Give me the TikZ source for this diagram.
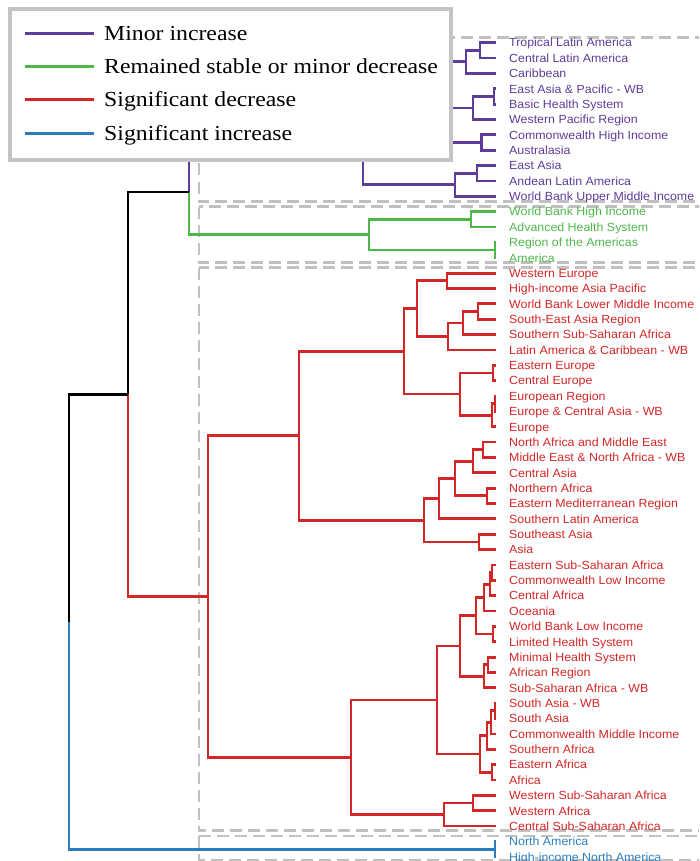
\documentclass[tikz,border=0pt]{standalone}
\usepackage{fontspec}
\usetikzlibrary{calc}
\newfontfamily\leaffont[FakeStretch=1.05]{Liberation Sans}
\newfontfamily\legfont[FakeStretch=1.11]{Liberation Serif}
\definecolor{cpurp}{RGB}{94,60,153}
\definecolor{cgrn}{RGB}{77,184,72}
\definecolor{cred}{RGB}{212,38,38}
\definecolor{cblu}{RGB}{43,125,190}
\definecolor{cbox}{RGB}{192,192,192}
\definecolor{clegbox}{RGB}{196,196,196}
\newcommand\dgnode[4]{\coordinate (#1m) at ($(#3)!0.5!(#4)$); \coordinate (#1) at (#2,0 |- #1m);}
\newcommand\dglink[5]{\draw[tree,#4] (#1) |- (#2); \draw[tree,#5] (#1) |- (#3);}
\tikzset{
  tree/.style={line width=2.8pt, line join=miter},
  dbox/.style={draw=cbox, line width=2.6pt, dash pattern=on 12pt off 6pt},
  leaflab/.style={anchor=base west, inner sep=0pt, font=\leaffont\fontsize{11.8}{12}\selectfont},
  leglab/.style={anchor=base west, inner sep=0pt, font=\legfont\fontsize{21.4}{24}\selectfont},
  legline/.style={line width=3.2pt},
}
\begin{document}
\begin{tikzpicture}[x=1pt,y=-1pt]
\useasboundingbox (0,0) rectangle (699,861);
\clip (0,0) rectangle (699,861);
% dashed cluster boxes
\draw[dbox] (199,37.5) rectangle (712,201.7);
\draw[dbox] (199,206.7) rectangle (712,262.7);
\draw[dbox] (199,267.7) rectangle (712,830.7);
\draw[dbox] (199,836) rectangle (712,860);
% leaves
\foreach \lab [count=\i from 0] in {Tropical Latin America, Central Latin America, Caribbean, East Asia \& Pacific - WB, Basic Health System, Western Pacific Region, Commonwealth High Income, Australasia, East Asia, Andean Latin America, World Bank Upper Middle Income}
  {\coordinate (L\i) at (496,{42.7+15.36*\i});
   \node[leaflab, text=cpurp] (t\i) at (509,{42.7+15.36*\i+4.3}) {\lab};}
\foreach \lab [count=\i from 11] in {World Bank High Income, Advanced Health System, Region of the Americas, America}
  {\coordinate (L\i) at (496,{42.7+15.36*\i});
   \node[leaflab, text=cgrn] (t\i) at (509,{42.7+15.36*\i+4.3}) {\lab};}
\foreach \lab [count=\i from 15] in {Western Europe, High-income Asia Pacific, World Bank Lower Middle Income, South-East Asia Region, Southern Sub-Saharan Africa, Latin America \& Caribbean - WB, Eastern Europe, Central Europe, European Region, Europe \& Central Asia - WB, Europe, North Africa and Middle East, Middle East \& North Africa - WB, Central Asia, Northern Africa, Eastern Mediterranean Region, Southern Latin America, Southeast Asia, Asia, Eastern Sub-Saharan Africa, Commonwealth Low Income, Central Africa, Oceania, World Bank Low Income, Limited Health System, Minimal Health System, African Region, Sub-Saharan Africa - WB, South Asia - WB, South Asia, Commonwealth Middle Income, Southern Africa, Eastern Africa, Africa, Western Sub-Saharan Africa, Western Africa, Central Sub-Saharan Africa}
  {\coordinate (L\i) at (496,{42.7+15.36*\i});
   \node[leaflab, text=cred] (t\i) at (509,{42.7+15.36*\i+4.3}) {\lab};}
\foreach \lab [count=\i from 52] in {North America, High-income North America}
  {\coordinate (L\i) at (496,{42.7+15.36*\i});
   \node[leaflab, text=cblu] (t\i) at (509,{42.7+15.36*\i+4.3}) {\lab};}
% purple cluster
\dgnode{a1}{480}{L0}{L1}
\dgnode{a2}{466}{a1}{L2}
\dgnode{b1}{494}{L3}{L4}
\dgnode{b2}{473}{b1}{L5}
\dgnode{c1}{481.5}{L6}{L7}
\dgnode{d1}{477}{L8}{L9}
\dgnode{d2}{455}{d1}{L10}
\dgnode{p1}{430}{a2}{b2}
\dgnode{p2}{410}{p1}{c1}
\dgnode{p3}{363}{p2}{d2}
% green cluster
\dgnode{g1}{471}{L11}{L12}
\dgnode{g2}{495}{L13}{L14}
\dgnode{g3}{369}{g1}{g2}
\dgnode{top}{189}{p3}{g3}
% red cluster
\dgnode{r1}{447}{L15}{L16}
\dgnode{r2}{478}{L17}{L18}
\dgnode{r3}{463}{r2}{L19}
\dgnode{r4}{448}{r3}{L20}
\dgnode{r5}{417}{r1}{r4}
\dgnode{r6}{493}{L21}{L22}
\dgnode{r7}{495}{L23}{L24}
\dgnode{r8}{492}{r7}{L25}
\dgnode{r9}{460}{r6}{r8}
\dgnode{r10}{404}{r5}{r9}
\dgnode{r11}{483}{L26}{L27}
\dgnode{r12}{473}{r11}{L28}
\dgnode{r13}{487}{L29}{L30}
\dgnode{r14}{455}{r12}{r13}
\dgnode{r15}{439}{r14}{L31}
\dgnode{r16}{479}{L32}{L33}
\dgnode{r17}{424}{r15}{r16}
\dgnode{r18}{299}{r10}{r17}
\dgnode{r19}{492}{L34}{L35}
\dgnode{r20}{490}{r19}{L36}
\dgnode{r21}{484}{r20}{L37}
\dgnode{r22}{493}{L38}{L39}
\dgnode{r23}{476}{r21}{r22}
\dgnode{r24}{488}{L40}{L41}
\dgnode{r25}{484}{r24}{L42}
\dgnode{r26}{460}{r23}{r25}
\dgnode{r27}{495}{L43}{L44}
\dgnode{r28}{491}{r27}{L45}
\dgnode{r29}{487}{r28}{L46}
\dgnode{r30}{492}{L47}{L48}
\dgnode{r31}{480}{r29}{r30}
\dgnode{r32}{437}{r26}{r31}
\dgnode{r33}{473}{L49}{L50}
\dgnode{r34}{444}{r33}{L51}
\dgnode{r35}{351}{r32}{r34}
\dgnode{r36}{208}{r18}{r35}
% blue and upper links
\dgnode{k1}{128}{top}{r36}
\dgnode{bl}{495}{L52}{L53}
\dgnode{root}{69}{k1}{bl}
% draw links
\dglink{a1}{L0}{L1}{cpurp}{cpurp}
\dglink{a2}{a1}{L2}{cpurp}{cpurp}
\dglink{b1}{L3}{L4}{cpurp}{cpurp}
\dglink{b2}{b1}{L5}{cpurp}{cpurp}
\dglink{c1}{L6}{L7}{cpurp}{cpurp}
\dglink{d1}{L8}{L9}{cpurp}{cpurp}
\dglink{d2}{d1}{L10}{cpurp}{cpurp}
\dglink{p1}{a2}{b2}{cpurp}{cpurp}
\dglink{p2}{p1}{c1}{cpurp}{cpurp}
\dglink{p3}{p2}{d2}{cpurp}{cpurp}
\dglink{g1}{L11}{L12}{cgrn}{cgrn}
\dglink{g2}{L13}{L14}{cgrn}{cgrn}
\dglink{g3}{g1}{g2}{cgrn}{cgrn}
\dglink{top}{p3}{g3}{cpurp}{cgrn}
\dglink{r1}{L15}{L16}{cred}{cred}
\dglink{r2}{L17}{L18}{cred}{cred}
\dglink{r3}{r2}{L19}{cred}{cred}
\dglink{r4}{r3}{L20}{cred}{cred}
\dglink{r5}{r1}{r4}{cred}{cred}
\dglink{r6}{L21}{L22}{cred}{cred}
\dglink{r7}{L23}{L24}{cred}{cred}
\dglink{r8}{r7}{L25}{cred}{cred}
\dglink{r9}{r6}{r8}{cred}{cred}
\dglink{r10}{r5}{r9}{cred}{cred}
\dglink{r11}{L26}{L27}{cred}{cred}
\dglink{r12}{r11}{L28}{cred}{cred}
\dglink{r13}{L29}{L30}{cred}{cred}
\dglink{r14}{r12}{r13}{cred}{cred}
\dglink{r15}{r14}{L31}{cred}{cred}
\dglink{r16}{L32}{L33}{cred}{cred}
\dglink{r17}{r15}{r16}{cred}{cred}
\dglink{r18}{r10}{r17}{cred}{cred}
\dglink{r19}{L34}{L35}{cred}{cred}
\dglink{r20}{r19}{L36}{cred}{cred}
\dglink{r21}{r20}{L37}{cred}{cred}
\dglink{r22}{L38}{L39}{cred}{cred}
\dglink{r23}{r21}{r22}{cred}{cred}
\dglink{r24}{L40}{L41}{cred}{cred}
\dglink{r25}{r24}{L42}{cred}{cred}
\dglink{r26}{r23}{r25}{cred}{cred}
\dglink{r27}{L43}{L44}{cred}{cred}
\dglink{r28}{r27}{L45}{cred}{cred}
\dglink{r29}{r28}{L46}{cred}{cred}
\dglink{r30}{L47}{L48}{cred}{cred}
\dglink{r31}{r29}{r30}{cred}{cred}
\dglink{r32}{r26}{r31}{cred}{cred}
\dglink{r33}{L49}{L50}{cred}{cred}
\dglink{r34}{r33}{L51}{cred}{cred}
\dglink{r35}{r32}{r34}{cred}{cred}
\dglink{r36}{r18}{r35}{cred}{cred}
\dglink{k1}{top}{r36}{black}{cred}
\dglink{bl}{L52}{L53}{cblu}{cblu}
\dglink{root}{k1}{bl}{black}{cblu}
% legend
\draw[draw=clegbox, line width=4pt, fill=white] (9.5,9.5) rectangle (450.5,160);
\foreach \c/\t [count=\j from 0] in {cpurp/Minor increase, cgrn/Remained stable or minor decrease, cred/Significant decrease, cblu/Significant increase}
  {\coordinate (ls\j) at (25,{33.3+33.3*\j});
   \coordinate (le\j) at (93.5,{33.3+33.3*\j});
   \draw[legline, \c] (ls\j) -- (le\j);
   \node[leglab] (lt\j) at (104,{33.3+33.3*\j+7}) {\t};}
\end{tikzpicture}
\end{document}
